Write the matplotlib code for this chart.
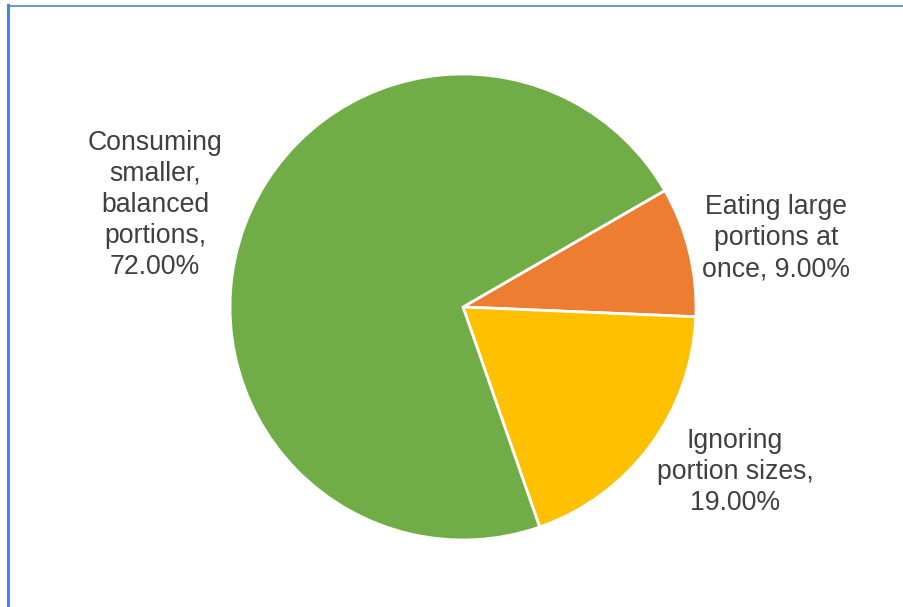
import matplotlib.pyplot as plt

plt.rcParams['font.family'] = ['Liberation Sans', 'DejaVu Sans']

labels = ['Eating large\nportions at\nonce', 'Ignoring\nportion sizes', 'Consuming\nsmaller,\nbalanced\nportions']
shares = [9.00, 19.00, 72.00]
colors = ['#ED7D31', '#FFC000', '#70AD47']
# how the value is joined to the wrapped name
joins = [' ', '\n', '\n']

W, H = 904, 607
fig = plt.figure(figsize=(W / 100, H / 100), dpi=100)
ax = fig.add_axes([0, 0, 1, 1])

# pie in pixel space, first slice starting at 60 deg clockwise from 12 o'clock
ax.pie(shares, colors=colors, startangle=30, counterclock=False,
       center=(463, H - 307), radius=233,
       wedgeprops=dict(edgecolor='white', linewidth=2))
ax.set_xlim(0, W)
ax.set_ylim(0, H)
ax.set_aspect('equal')
ax.axis('off')

# data labels beside the slices
label_pos = [(776, 238), (735, 472), (155, 205)]
for lab, val, sep, (x, y) in zip(labels, shares, joins, label_pos):
    ax.text(x, H - y, f'{lab},{sep}{val:.2f}%',
            ha='center', va='center', fontsize=19.2, color='#404040',
            linespacing=1.26)

# chart frame edges
ax.plot([8.5, 8.5], [0, H - 5], color='#4285F4', lw=2.2, clip_on=False)
ax.plot([8, W], [H - 5.5, H - 5.5], color='#4A86D8', lw=1.2, clip_on=False)

fig.savefig('out.png', dpi=100)
